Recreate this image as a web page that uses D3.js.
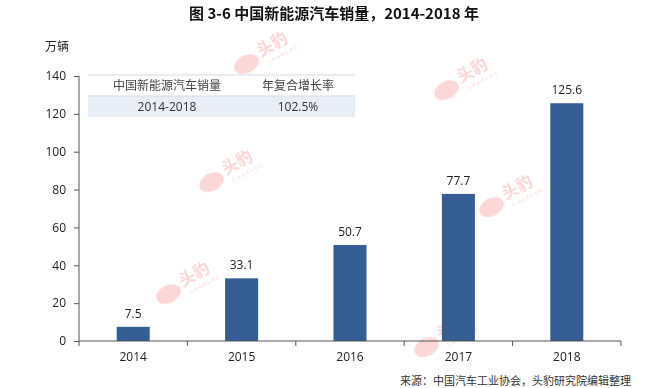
<!DOCTYPE html>
<html>
<head>
<meta charset="utf-8">
<script src="https://cdn.jsdelivr.net/npm/d3@7"></script>
<style>
  body { margin: 0; background: #fff; }
  text { font-family: "Open Sans", "Noto Sans CJK SC", sans-serif; }
</style>
</head>
<body>
<svg id="chart" width="647" height="388"></svg>
<script>
// data
var years = ["2014", "2015", "2016", "2017", "2018"];
var sales = [7.5, 33.1, 50.7, 77.7, 125.6];
var yTicks = [0, 20, 40, 60, 80, 100, 120, 140];
var tableHead = ["中国新能源汽车销量", "年复合增长率"];
var tableRow = ["2014-2018", "102.5%"];
var marks = [[265, 52], [465, 78], [230, 170], [510, 195], [187, 282], [445, 335]];

var svg = d3.select("#chart");
var cjk = "'Noto Sans CJK SC', sans-serif";

var x = d3.scaleBand().domain(years).range([79, 621]).paddingInner(0).paddingOuter(0);
var y = d3.scaleLinear().domain([0, 140]).range([341, 76]);

// watermarks first, under everything
var wm = svg.append("g").attr("opacity", 0.28);
marks.forEach(function (m) {
  var g = wm.append("g").attr("transform", "translate(" + m[0] + "," + m[1] + ") rotate(-28)");
  g.append("ellipse").attr("cx", -22).attr("cy", 2).attr("rx", 13).attr("ry", 9).attr("fill", "#f07070");
  g.append("text").attr("x", -6).attr("y", 2).attr("font-size", 16).attr("font-weight", "bold")
    .attr("fill", "#f06060").style("font-family", cjk).text("头豹");
  g.append("text").attr("x", -2).attr("y", 12).attr("font-size", 6).attr("fill", "#f06060")
    .attr("letter-spacing", 1.5).text("LeadLeo");
});

// title
svg.append("text").attr("x", 334).attr("y", 19).attr("text-anchor", "middle")
  .attr("font-size", 15).attr("font-weight", "bold").attr("fill", "#111")
  .style("font-family", cjk).text("图 3-6  中国新能源汽车销量，2014-2018 年");

svg.append("text").attr("x", 45).attr("y", 51).attr("font-size", 12).attr("fill", "#222")
  .style("font-family", cjk).text("万辆");

// table
var tx0 = 88, tx1 = 355, tcol = [167, 298];
svg.append("rect").attr("x", tx0).attr("y", 96).attr("width", tx1 - tx0).attr("height", 21).attr("fill", "#e9edf6");
svg.append("line").attr("x1", tx0).attr("x2", tx1).attr("y1", 75).attr("y2", 75).attr("stroke", "#d4d9e6");
svg.append("line").attr("x1", tx0).attr("x2", tx1).attr("y1", 96).attr("y2", 96).attr("stroke", "#d4d9e6");
tableHead.forEach(function (t, i) {
  svg.append("text").attr("x", tcol[i]).attr("y", 90).attr("text-anchor", "middle")
    .attr("font-size", 12).attr("fill", "#444").style("font-family", cjk).text(t);
});
tableRow.forEach(function (t, i) {
  svg.append("text").attr("x", tcol[i]).attr("y", 111).attr("text-anchor", "middle")
    .attr("font-size", 12).attr("fill", "#333").text(t);
});

// bars
var bw = 33;
svg.selectAll("rect.bar").data(sales).enter().append("rect").attr("class", "bar")
  .attr("x", function (d, i) { return x(years[i]) + x.bandwidth() / 2 - bw / 2; })
  .attr("y", function (d) { return y(d); })
  .attr("width", bw)
  .attr("height", function (d) { return y(0) - y(d); })
  .attr("fill", "#345d93");

svg.selectAll("text.val").data(sales).enter().append("text").attr("class", "val")
  .attr("x", function (d, i) { return x(years[i]) + x.bandwidth() / 2; })
  .attr("y", function (d) { return y(d) - 9; })
  .attr("text-anchor", "middle").attr("font-size", 12).attr("fill", "#222")
  .text(function (d) { return d.toFixed(1); });

// axes
var yAxis = svg.append("g").attr("transform", "translate(79,0)")
  .call(d3.axisLeft(y).tickValues(yTicks).tickSize(5).tickPadding(8));
var xAxis = svg.append("g").attr("transform", "translate(0,341)")
  .call(d3.axisBottom(x).tickSize(5).tickPadding(6));
// ticks between categories
xAxis.selectAll(".tick line").remove();
xAxis.selectAll("line.sep").data(years.concat(["end"])).enter().append("line").attr("class", "sep")
  .attr("x1", function (d, i) { return 79 + i * x.bandwidth(); })
  .attr("x2", function (d, i) { return 79 + i * x.bandwidth(); })
  .attr("y1", 0).attr("y2", 5).attr("stroke", "#555");
[yAxis, xAxis].forEach(function (a) {
  a.select(".domain").attr("stroke", "#555");
  a.selectAll(".tick line").attr("stroke", "#555");
  a.selectAll("text").attr("font-size", 12).attr("fill", "#222").style("font-family", "'Open Sans', sans-serif");
});
xAxis.select(".domain").attr("d", "M79,0H621");
yAxis.select(".domain").attr("d", "M0,76V341");

// source
svg.append("text").attr("x", 400).attr("y", 385).attr("font-size", 11).attr("fill", "#333")
  .style("font-family", cjk).text("来源：中国汽车工业协会，头豹研究院编辑整理");
</script>
</body>
</html>
